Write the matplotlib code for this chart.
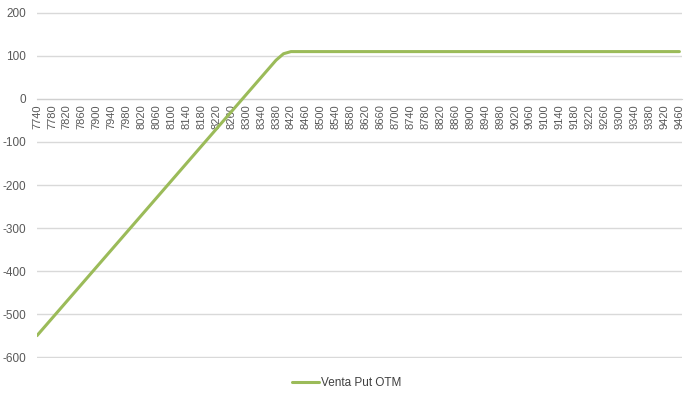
import matplotlib
matplotlib.use("Agg")
import matplotlib.pyplot as plt
import numpy as np

plt.rcParams['font.family'] = ['Liberation Sans', 'DejaVu Sans']
plt.rcParams['axes.unicode_minus'] = False

# underlying price (step 20) and payoff
precios = list(range(7740, 9461, 20))
resultado = [-550, -530, -510, -490, -470, -450, -430, -410, -390, -370,
             -350, -330, -310, -290, -270, -250, -230, -210, -190, -170,
             -150, -130, -110, -90, -70, -50, -30, -10, 10, 30,
             50, 70, 90, 105, 110, 110, 110, 110, 110, 110,
             110, 110, 110, 110, 110, 110, 110, 110, 110, 110,
             110, 110, 110, 110, 110, 110, 110, 110, 110, 110,
             110, 110, 110, 110, 110, 110, 110, 110, 110, 110,
             110, 110, 110, 110, 110, 110, 110, 110, 110, 110,
             110, 110, 110, 110, 110, 110, 110]
etiquetas = [str(p) for p in range(7740, 9461, 40)]
serie = "Venta Put OTM"

fig = plt.figure(figsize=(6.96, 3.98), dpi=100)
ax = fig.add_axes([37/696, 40/398, 645/696, 346/398])

ax.plot(precios, resultado, color="#9BBB59", lw=2.2, label=serie,
        solid_joinstyle="round", solid_capstyle="round", zorder=3)

ax.set_ylim(-602, 202)
ax.set_xlim(7740, 9467)
ax.set_yticks(range(-600, 201, 100))
ax.yaxis.grid(True, color="#d9d9d9", lw=1.0)
ax.set_axisbelow(True)

for s in ["top", "right", "left"]:
    ax.spines[s].set_visible(False)
ax.spines["bottom"].set_position(("data", 0))
ax.spines["bottom"].set_color("#d0d0d0")

ax.set_xticks(range(7740, 9461, 40))
ax.set_xticklabels(etiquetas, rotation=90, fontsize=8, color="#595959")
ax.tick_params(axis="x", length=0, pad=4)
ax.tick_params(axis="y", length=0, pad=8, labelsize=8.5, labelcolor="#595959")

ax.legend(loc="lower center", bbox_to_anchor=(0.48, -0.12), frameon=False,
          fontsize=8.5, handlelength=2.3, handletextpad=0.1,
          labelcolor="#404040")

fig.savefig("out.png", dpi=100)
